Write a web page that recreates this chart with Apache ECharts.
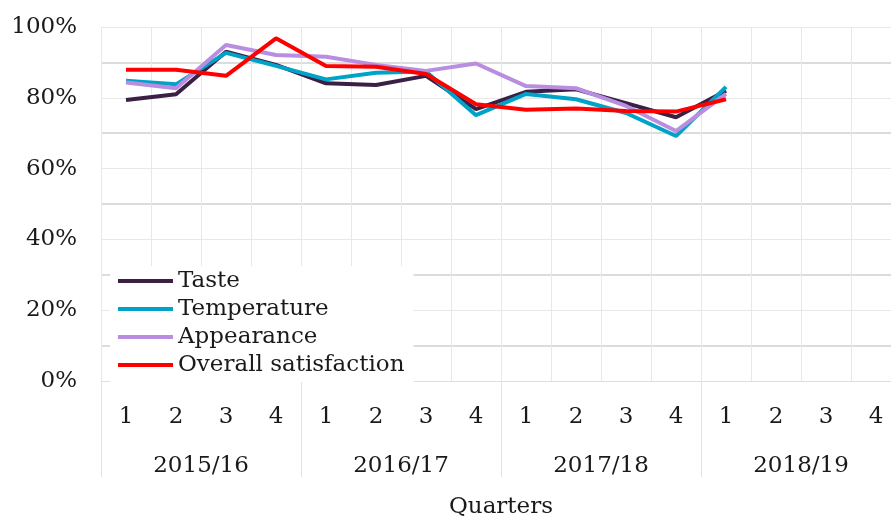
<!DOCTYPE html>
<html>
<head>
<meta charset="utf-8">
<script src="https://cdn.jsdelivr.net/npm/echarts@6/dist/echarts.min.js"></script>
<style>html,body{margin:0;padding:0;background:#fff}#c{width:891px;height:517px}</style>
</head>
<body>
<div id="c"></div>
<script>
const quarters = ['1','2','3','4','1','2','3','4','1','2','3','4','1','2','3','4'];
const years = ['2015/16','2016/17','2017/18','2018/19'];
const taste = [79.4, 81.0, 93.0, 89.3, 84.1, 83.6, 86.2, 76.8, 81.7, 82.4, 78.5, 74.5, 82.0];
const temperature = [84.8, 83.8, 92.7, 89.0, 85.2, 87.1, 87.4, 75.1, 81.1, 79.6, 75.7, 69.2, 83.1];
const appearance = [84.3, 82.7, 94.9, 92.1, 91.6, 89.3, 87.6, 89.7, 83.3, 82.7, 77.7, 70.6, 81.1];
const overall = [87.9, 87.9, 86.2, 96.8, 89.0, 88.8, 86.7, 78.2, 76.6, 77.0, 76.3, 76.1, 79.6];
const yTicks = [0, 20, 40, 60, 80, 100];

const FONT = 'DejaVu Serif';
const FS = 23;
const TXT = '#1a1a1a';
const chart = echarts.init(document.getElementById('c'));
function line(name, data, color) {
  return { name, type: 'line', data, symbol: 'none', color,
    lineStyle: { width: 4, color }, xAxisIndex: 0 };
}
chart.setOption({
  animation: false,
  backgroundColor: '#fff',
  textStyle: { fontFamily: FONT },
  grid: { left: 101, right: -10, top: 27, bottom: 136, containLabel: false, outerBoundsMode: 'none' },
  legend: {
    left: 110, top: 266, orient: 'vertical', backgroundColor: '#fff',
    padding: [1, 9, 3, 8], itemGap: 0, icon: 'rect', itemWidth: 55, itemHeight: 4,
    textStyle: { fontFamily: FONT, fontSize: FS, color: TXT, lineHeight: 28 },
    data: ['Taste', 'Temperature', 'Appearance', 'Overall satisfaction']
  },
  xAxis: [{
    type: 'category', data: quarters, boundaryGap: true, position: 'bottom',
    axisLine: { show: true, lineStyle: { color: '#dedede', width: 1 } },
    axisTick: { show: false },
    axisLabel: { fontFamily: FONT, fontSize: FS, color: TXT, margin: 25 },
    splitLine: { show: true, lineStyle: { color: '#e8e8e8', width: 1 } }
  }, {
    type: 'category', data: years, boundaryGap: true, position: 'bottom', offset: 96,
    axisLine: { show: false },
    axisTick: { show: true, inside: true, length: 96, lineStyle: { color: '#e3e3e3', width: 1 } },
    axisLabel: { inside: true, fontFamily: FONT, fontSize: FS, color: TXT, margin: -1 },
    name: 'Quarters', nameLocation: 'middle', nameGap: 19,
    nameTextStyle: { fontFamily: FONT, fontSize: FS, color: TXT, verticalAlign: 'top' }
  }],
  yAxis: {
    type: 'value', min: yTicks[0], max: yTicks[yTicks.length - 1], interval: 20,
    axisLine: { show: false }, axisTick: { show: false },
    axisLabel: { fontFamily: FONT, fontSize: FS, color: TXT, margin: 24, formatter: v => v + '%' },
    splitLine: { show: true, lineStyle: { color: '#e8e8e8', width: 1 } },
    minorTick: { show: false, splitNumber: 2 },
    minorSplitLine: { show: true, lineStyle: { color: '#dcdcdc', width: 2 } }
  },
  series: [
    line('Taste', taste, '#3b1f45'),
    line('Temperature', temperature, '#00a3c8'),
    line('Appearance', appearance, '#b98de0'),
    line('Overall satisfaction', overall, '#ff0000')
  ]
});
</script>
</body>
</html>
